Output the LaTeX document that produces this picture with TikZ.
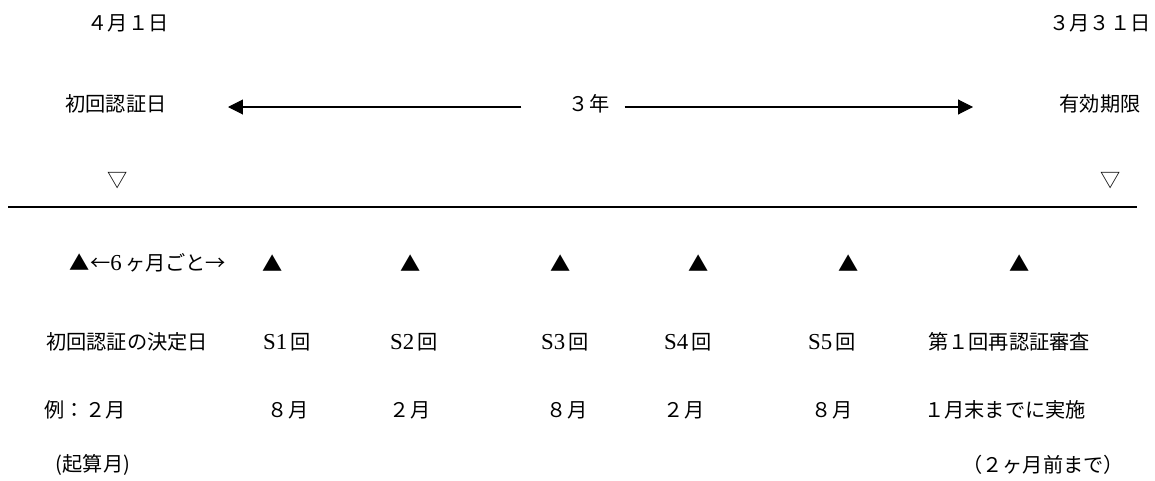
\documentclass[tikz,border=0pt]{standalone}
\usepackage{fontspec}
\usetikzlibrary{arrows.meta}
\newfontfamily\jp{Noto Sans CJK JP}
\newfontfamily\lat{Liberation Serif}
\newcommand{\ltn}[1]{{\lat\fontsize{13}{14}\selectfont #1}}

\tikzset{
  lbl/.style={inner sep=0pt, font=\jp\fontsize{11.5}{14}\selectfont},
  span/.style={line width=0.6pt, -{Triangle[length=8.5pt,width=8.5pt]}},
}

\begin{document}
\begin{tikzpicture}[x=0.02cm, y=-0.02cm]
\useasboundingbox (0,0) rectangle (1155,480);

\node[lbl] (start) at (128,23) {４月１日};
\node[lbl] (end) at (1100,23) {３月３１日};
\node[lbl] (first) at (116,104) {初回認証日};
\node[lbl] (yr) at (589,104) {３年};
\node[lbl] (limit) at (1100,104) {有効期限};
\coordinate (ltip) at (228,107);
\coordinate (rtip) at (973,107);
\draw[span] (yr.west |- ltip) ++(-47,0) -- (ltip);
\draw[span] (yr.east |- rtip) ++(15,0) -- (rtip);
\node[lbl] (opn) at (118,181) {▽};
\node[lbl] (cls) at (1111,181) {▽};

\draw[line width=1.2pt] (8,207) -- (1137,207);

\node[lbl] (t0) at (148,263) {▲←\ltn{6}\,ヶ月ごと→};
\node[lbl] (t1) at (273,263) {▲};
\node[lbl] (t2) at (411,263) {▲};
\node[lbl] (t3) at (561,263) {▲};
\node[lbl] (t4) at (699,263) {▲};
\node[lbl] (t5) at (849,263) {▲};
\node[lbl] (t6) at (1020,263) {▲};

\node[lbl] (d0) at (127,342) {初回認証の決定日};
\node[lbl] (s1) at (287,342) {\ltn{S1}\,回};
\node[lbl] (s2) at (414,342) {\ltn{S2}\,回};
\node[lbl] (s3) at (565,342) {\ltn{S3}\,回};
\node[lbl] (s4) at (688,342) {\ltn{S4}\,回};
\node[lbl] (s5) at (832,342) {\ltn{S5}\,回};
\node[lbl] (re) at (1009,342) {第１回再認証審査};

\node[lbl] (m0) at (85,410) {例：２月};
\node[lbl] (m1) at (288,410) {８月};
\node[lbl] (m2) at (410,410) {２月};
\node[lbl] (m3) at (567,410) {８月};
\node[lbl] (m4) at (684,410) {２月};
\node[lbl] (m5) at (832,410) {８月};
\node[lbl] (m6) at (1005,410) {１月末までに実施};

\node[lbl] (base) at (93,465) {(起算月)};
\node[lbl] (due) at (1043,465) {（２ヶ月前まで）};
\end{tikzpicture}
\end{document}
